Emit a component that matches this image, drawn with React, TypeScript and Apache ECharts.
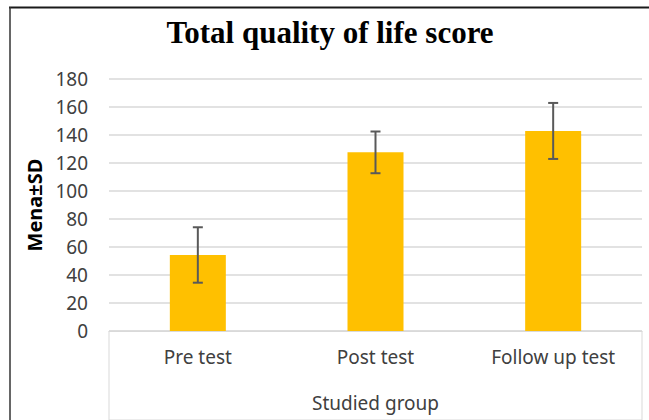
import React, { useEffect, useRef } from "react";
import * as echarts from "echarts";

const categories = ["Pre test", "Post test", "Follow up test"];
const means = [54.3, 127.6, 142.9];
const sds = [19.8, 14.9, 20.0];
const yTicks = { min: 0, max: 180, interval: 20 };

export default function App() {
  const ref = useRef<HTMLDivElement>(null);
  useEffect(() => {
    if (!ref.current) return;
    const chart = echarts.init(ref.current, null, { renderer: "svg" });
    const errData = means.map((m, i) => [i, m - sds[i], m + sds[i]]);
    const labelFont = "'Noto Sans', sans-serif";
    chart.setOption({
      animation: false,
      backgroundColor: "#ffffff",
      title: {
        text: "Total quality of life score",
        left: 330,
        top: 17,
        padding: 0,
        textAlign: "center",
        textStyle: {
          fontFamily: "'Liberation Serif', 'Times New Roman', serif",
          fontWeight: "bold",
          fontSize: 31,
          color: "#000000",
        },
      },
      grid: [
        { left: 109, right: 7, top: 79, bottom: 89 },
        {
          left: 109,
          right: 7,
          top: 331,
          height: 120,
          show: true,
          borderColor: "#d9d9d9",
          borderWidth: 1,
          backgroundColor: "transparent",
        },
      ],
      xAxis: [
        {
          type: "category",
          data: categories,
          gridIndex: 0,
          axisLine: { show: true, lineStyle: { color: "#d9d9d9", width: 1 } },
          axisTick: { show: false },
          axisLabel: {
            margin: 16,
            fontFamily: labelFont,
            fontSize: 19,
            color: "#404040",
          },
          name: "Studied group",
          nameLocation: "middle",
          nameGap: 62,
          nameTextStyle: {
            fontFamily: labelFont,
            fontSize: 19,
            color: "#404040",
          },
        },
        { type: "value", gridIndex: 1, show: false },
      ],
      yAxis: [
        {
          type: "value",
          gridIndex: 0,
          min: yTicks.min,
          max: yTicks.max,
          interval: yTicks.interval,
          axisLine: { show: false },
          axisTick: { show: false },
          axisLabel: {
            margin: 21,
            fontFamily: labelFont,
            fontSize: 19,
            color: "#404040",
          },
          splitLine: { show: true, lineStyle: { color: "#d9d9d9", width: 1.5 } },
          name: "Mena±SD",
          nameLocation: "middle",
          nameRotate: 90,
          nameGap: 60,
          nameTextStyle: {
            fontFamily: labelFont,
            fontWeight: "bold",
            fontSize: 20,
            color: "#000000",
          },
        },
        { type: "value", gridIndex: 1, show: false },
      ],
      series: [
        {
          type: "bar",
          data: means,
          barWidth: 56,
          itemStyle: { color: "#FFC000" },
          xAxisIndex: 0,
          yAxisIndex: 0,
        },
        {
          type: "custom",
          xAxisIndex: 0,
          yAxisIndex: 0,
          data: errData,
          z: 10,
          renderItem: (params: any, api: any) => {
            const x = api.value(0);
            const lo = api.coord([x, api.value(1)]);
            const hi = api.coord([x, api.value(2)]);
            const cap = 5;
            const style = { stroke: "#595959", lineWidth: 2 };
            return {
              type: "group",
              children: [
                { type: "line", shape: { x1: lo[0], y1: lo[1], x2: hi[0], y2: hi[1] }, style },
                { type: "line", shape: { x1: hi[0] - cap, y1: hi[1], x2: hi[0] + cap, y2: hi[1] }, style },
                { type: "line", shape: { x1: lo[0] - cap, y1: lo[1], x2: lo[0] + cap, y2: lo[1] }, style },
              ],
            };
          },
        },
      ],
      graphic: [
        {
          type: "line",
          shape: { x1: 9, y1: 7.5, x2: 649, y2: 7.5 },
          style: { stroke: "#1a1a1a", lineWidth: 2 },
          silent: true,
        },
        {
          type: "line",
          shape: { x1: 10, y1: 7, x2: 10, y2: 420 },
          style: { stroke: "#333333", lineWidth: 1.5 },
          silent: true,
        },
      ],
    });
    return () => chart.dispose();
  }, []);
  return (
    <div
      ref={ref}
      style={{ position: "fixed", left: 0, top: 0, width: 649, height: 420 }}
    />
  );
}
